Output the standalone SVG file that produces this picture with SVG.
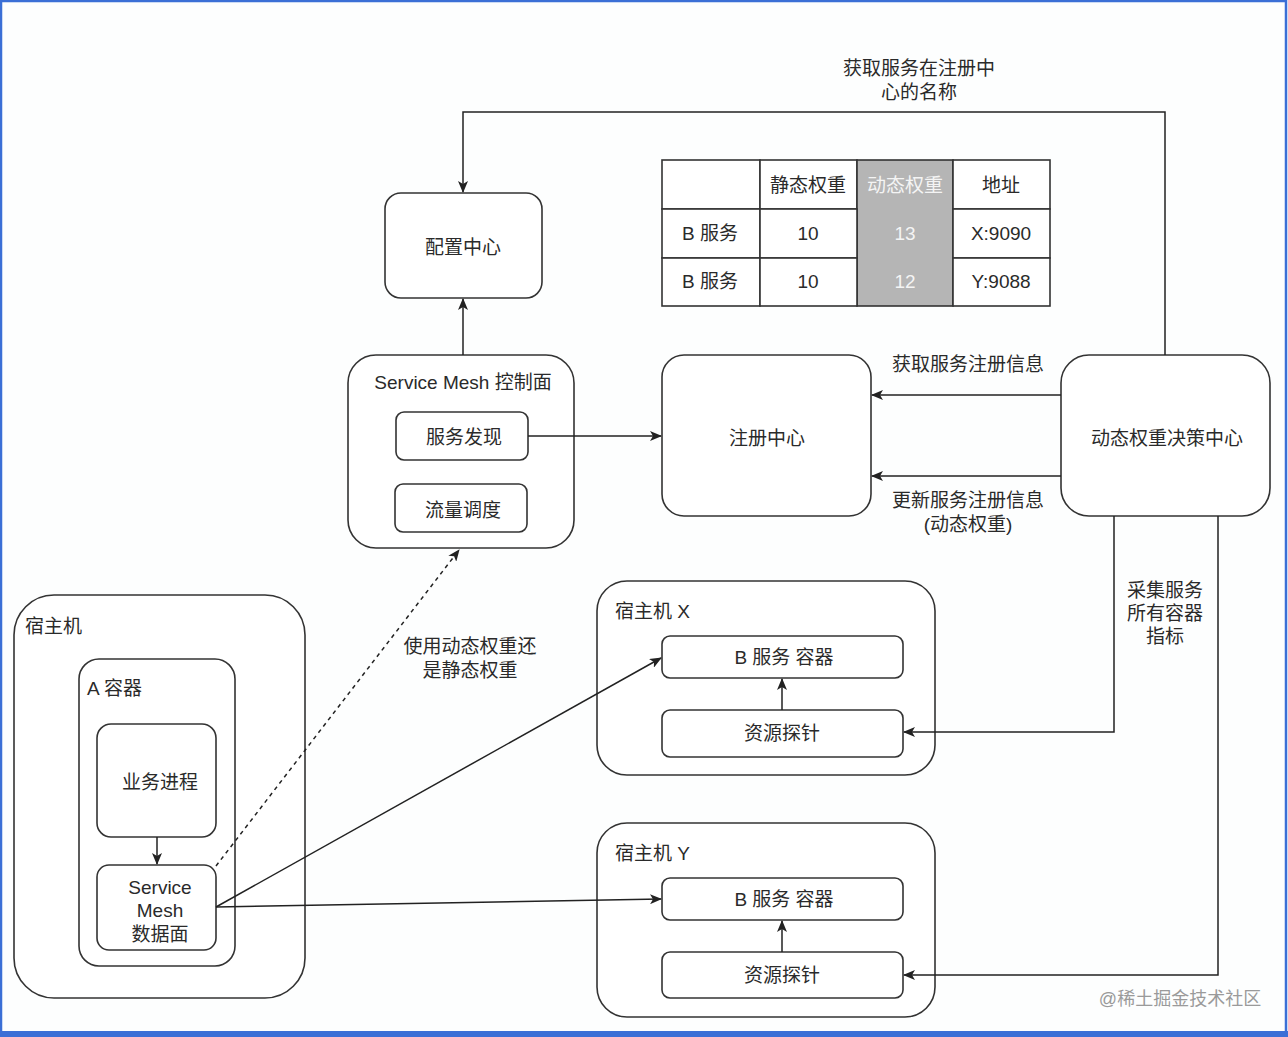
<svg xmlns="http://www.w3.org/2000/svg" width="1288" height="1037" viewBox="0 0 1288 1037">
<defs>
<marker id="arr" viewBox="0 0 12 10" refX="11" refY="5" markerWidth="12" markerHeight="10" markerUnits="userSpaceOnUse" orient="auto">
<path d="M0,0 L12,5 L0,10 L3,5 z" fill="#222"/>
</marker>
<style>
.box{fill:#fff;stroke:#333;stroke-width:1.6}
.t{font-family:"Liberation Sans","Noto Sans CJK SC",sans-serif;font-size:19px;fill:#2a2a2a;text-anchor:middle;dominant-baseline:central}
.tl{font-family:"Liberation Sans","Noto Sans CJK SC",sans-serif;font-size:19px;fill:#2a2a2a;dominant-baseline:central}
.w{fill:#f4f4f4}
.c{fill:none;stroke:#222;stroke-width:1.5;marker-end:url(#arr)}
.cell{fill:#fff;stroke:#333;stroke-width:1.6}
</style>
</defs>
<rect x="0" y="0" width="1288" height="1037" fill="#fdfefe"/>
<rect x="1" y="1" width="1285" height="1033" fill="none" stroke="#3b6fd6" stroke-width="2.5"/>
<rect x="0" y="1031" width="1288" height="6" fill="#3b6fd6"/>

<g id="config-center">
<rect class="box" x="385" y="193" width="157" height="105" rx="16"/>
<text class="t" x="463" y="247">配置中心</text>
</g>

<g id="weight-table">
<rect class="cell" x="662" y="160" width="98" height="49"/>
<rect class="cell" x="760" y="160" width="97" height="49"/>
<rect x="857" y="160" width="96" height="146" fill="#b5b5b5" stroke="#333" stroke-width="1.6"/>
<rect class="cell" x="953" y="160" width="97" height="49"/>
<rect class="cell" x="662" y="209" width="98" height="49"/>
<rect class="cell" x="760" y="209" width="97" height="49"/>
<rect class="cell" x="953" y="209" width="97" height="49"/>
<rect class="cell" x="662" y="258" width="98" height="48"/>
<rect class="cell" x="760" y="258" width="97" height="48"/>
<rect class="cell" x="953" y="258" width="97" height="48"/>
<text class="t" x="808" y="185">静态权重</text>
<text class="t w" x="905" y="185">动态权重</text>
<text class="t" x="1001" y="185">地址</text>
<text class="t" x="710" y="233">B 服务</text>
<text class="t" x="808" y="233">10</text>
<text class="t w" x="905" y="233">13</text>
<text class="t" x="1001" y="233">X:9090</text>
<text class="t" x="710" y="281">B 服务</text>
<text class="t" x="808" y="281">10</text>
<text class="t w" x="905" y="281">12</text>
<text class="t" x="1001" y="281">Y:9088</text>
</g>

<g id="mesh-control">
<rect class="box" x="348" y="355" width="226" height="193" rx="28"/>
<text class="t" x="463" y="382">Service Mesh 控制面</text>
</g>
<g id="service-discovery">
<rect class="box" x="396" y="412" width="132" height="48" rx="8"/>
<text class="t" x="464" y="437">服务发现</text>
</g>
<g id="traffic-dispatch">
<rect class="box" x="395" y="484" width="132" height="48" rx="8"/>
<text class="t" x="463" y="510">流量调度</text>
</g>

<g id="registry">
<rect class="box" x="662" y="355" width="209" height="161" rx="22"/>
<text class="t" x="767" y="438">注册中心</text>
</g>

<g id="decision-center">
<rect class="box" x="1061" y="355" width="209" height="161" rx="28"/>
<text class="t" x="1167" y="438">动态权重决策中心</text>
</g>

<g id="host-x">
<rect class="box" x="597" y="581" width="338" height="194" rx="30"/>
<text class="tl" x="615" y="611">宿主机 X</text>
</g>
<g id="b-container-x">
<rect class="box" x="662" y="636" width="241" height="42" rx="8"/>
<text class="t" x="784" y="657">B 服务 容器</text>
</g>
<g id="probe-x">
<rect class="box" x="662" y="710" width="241" height="47" rx="8"/>
<text class="t" x="782" y="733">资源探针</text>
</g>

<g id="host-y">
<rect class="box" x="597" y="823" width="338" height="194" rx="30"/>
<text class="tl" x="615" y="853">宿主机 Y</text>
</g>
<g id="b-container-y">
<rect class="box" x="662" y="878" width="241" height="42" rx="8"/>
<text class="t" x="784" y="899">B 服务 容器</text>
</g>
<g id="probe-y">
<rect class="box" x="662" y="952" width="241" height="46" rx="8"/>
<text class="t" x="782" y="975">资源探针</text>
</g>

<g id="host-a">
<rect class="box" x="14" y="595" width="291" height="403" rx="40"/>
<text class="tl" x="25" y="626">宿主机</text>
</g>
<g id="container-a">
<rect class="box" x="79" y="659" width="156" height="307" rx="20"/>
<text class="tl" x="87" y="688">A 容器</text>
</g>
<g id="business-process">
<rect class="box" x="97" y="724" width="119" height="113" rx="14"/>
<text class="t" x="160" y="782">业务进程</text>
</g>
<g id="mesh-data">
<rect class="box" x="97" y="865" width="119" height="85" rx="12"/>
<text class="t" x="160" y="887">Service</text>
<text class="t" x="160" y="910">Mesh</text>
<text class="t" x="160" y="934">数据面</text>
</g>

<g id="connectors">
<path class="c" d="M1165,355 L1165,112 L463,112 L463,192"/>
<path class="c" d="M463,355 L463,299"/>
<path class="c" d="M528,436 L661,436"/>
<path class="c" d="M1061,395 L872,395"/>
<path class="c" d="M1061,476 L872,476"/>
<path class="c" d="M1114,516 L1114,732 L904,732"/>
<path class="c" d="M1218,516 L1218,975 L904,975"/>
<path class="c" d="M782,710 L782,679"/>
<path class="c" d="M782,952 L782,921"/>
<path class="c" d="M157,837 L157,864"/>
<path class="c" d="M216,866 L459,550" stroke-dasharray="4 4"/>
<path class="c" d="M216,907 L661,658"/>
<path class="c" d="M216,907 L661,899"/>
</g>

<g id="labels">
<text class="t" x="919" y="68">获取服务在注册中</text>
<text class="t" x="919" y="92">心的名称</text>
<text class="t" x="968" y="364">获取服务注册信息</text>
<text class="t" x="968" y="500">更新服务注册信息</text>
<text class="t" x="968" y="524">(动态权重)</text>
<text class="t" x="1165" y="590">采集服务</text>
<text class="t" x="1165" y="613">所有容器</text>
<text class="t" x="1165" y="636">指标</text>
<text class="t" x="470" y="646">使用动态权重还</text>
<text class="t" x="470" y="670">是静态权重</text>
<text class="t" x="1180" y="999" style="fill:#9a9a9a;font-size:18px">@稀土掘金技术社区</text>
</g>
</svg>
